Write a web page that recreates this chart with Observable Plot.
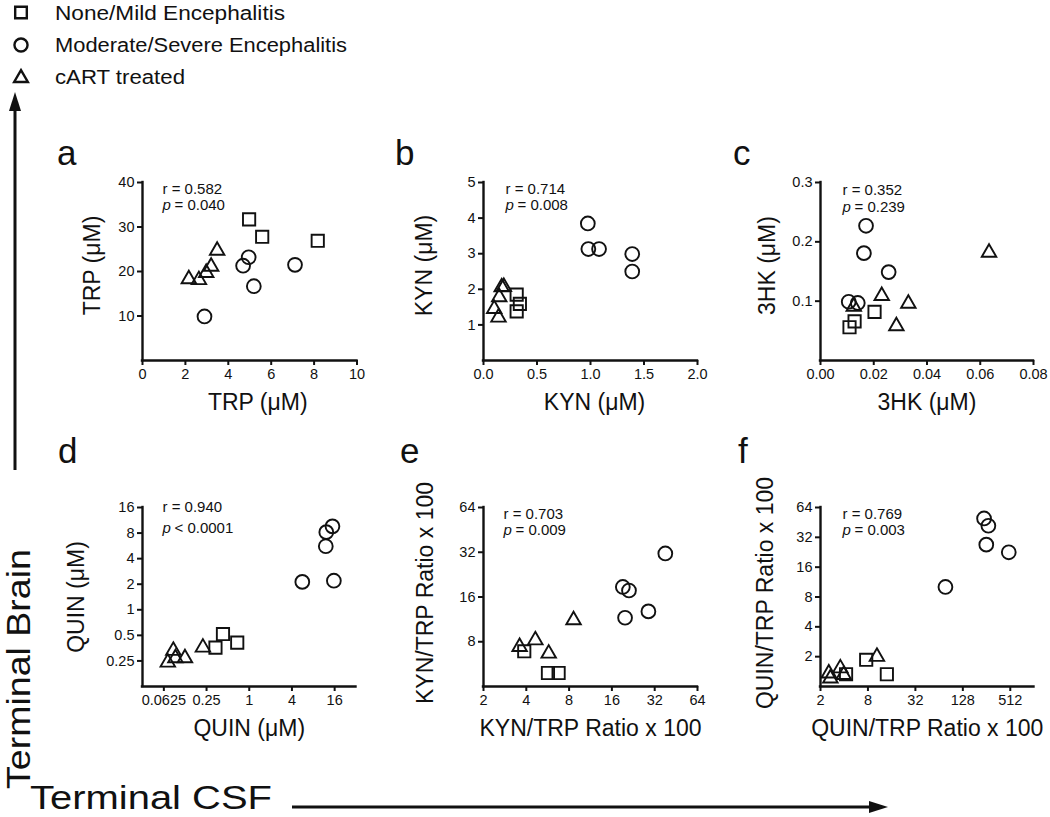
<!DOCTYPE html>
<html>
<head>
<meta charset="utf-8">
<script src="https://cdn.jsdelivr.net/npm/d3@7"></script>
<script src="https://cdn.jsdelivr.net/npm/@observablehq/plot@0.6"></script>
<style>
  body { margin: 0; background: #fff; }
  #root { position: relative; width: 1050px; height: 817px; overflow: hidden; background: #fff;
          font-family: "Liberation Sans", Arial, Helvetica, sans-serif; color: #111; }
  .panel { position: absolute; }
  .panel svg { overflow: visible; }
  #overlay { position: absolute; left: 0; top: 0; pointer-events: none; }
</style>
</head>
<body>
<div id="root"></div>
<script>
// ---------------- data ----------------
const groupCodes = ["S", "C", "T"];
const groupNames = ["None/Mild Encephalitis", "Moderate/Severe Encephalitis", "cART treated"];

// a: TRP (µM)  CSF (x) vs brain (y)
const aX = [4.97, 5.58, 8.17, 2.89, 4.69, 4.95, 5.19, 7.11, 2.16, 2.63, 2.97, 3.20, 3.48];
const aY = [31.7, 27.8, 26.9, 9.9, 21.3, 23.2, 16.7, 21.5, 18.3, 18.1, 19.7, 21.1, 24.7];
const aG = ["S", "S", "S", "C", "C", "C", "C", "C", "T", "T", "T", "T", "T"];

// b: KYN (µM)
const bX = [0.31, 0.34, 0.31, 0.975, 0.98, 1.08, 1.39, 1.39, 0.10, 0.14, 0.147, 0.17, 0.19];
const bY = [1.85, 1.59, 1.38, 3.85, 3.13, 3.13, 2.99, 2.50, 1.45, 1.21, 1.78, 2.06, 2.07];
const bG = ["S", "S", "S", "C", "C", "C", "C", "C", "T", "T", "T", "T", "T"];

// c: 3HK (µM)
const cX = [0.0109, 0.0128, 0.0203, 0.0106, 0.0140, 0.0171, 0.0163, 0.0256, 0.0125, 0.0230, 0.0330, 0.0285, 0.0633];
const cY = [0.056, 0.066, 0.082, 0.099, 0.097, 0.227, 0.181, 0.149, 0.091, 0.109, 0.096, 0.058, 0.182];
const cG = ["S", "S", "S", "C", "C", "C", "C", "C", "T", "T", "T", "T", "T"];

// d: QUIN (µM), log2 axes
const dX = [0.334, 0.426, 0.677, 5.6, 12.0, 12.2, 14.9, 15.6, 0.071, 0.085, 0.091, 0.124, 0.222];
const dY = [0.358, 0.518, 0.41, 2.13, 5.6, 8.2, 9.6, 2.2, 0.24, 0.33, 0.27, 0.27, 0.36];
const dG = ["S", "S", "S", "C", "C", "C", "C", "C", "T", "T", "T", "T", "T"];

// e: KYN/TRP ratio x 100, log2 axes
const eX = [3.87, 5.68, 6.75, 19.1, 21.1, 19.8, 28.9, 38.0, 3.59, 4.63, 5.75, 8.6];
const eY = [6.9, 4.93, 4.93, 18.7, 17.7, 11.6, 12.8, 31.4, 7.4, 8.2, 6.67, 11.2];
const eG = ["S", "S", "S", "C", "C", "C", "C", "C", "T", "T", "T", "T"];

// f: QUIN/TRP ratio x 100, log2 axes
const fX = [4.22, 7.6, 13.9, 77, 238, 270, 254, 490, 2.55, 2.67, 3.57, 3.94, 10.4];
const fY = [1.33, 1.86, 1.33, 10.1, 49.6, 41.9, 27, 22.6, 1.36, 1.21, 1.53, 1.31, 2.0];
const fG = ["S", "S", "S", "C", "C", "C", "C", "C", "T", "T", "T", "T", "T"];

// tick values
const aXTicks = [0, 2, 4, 6, 8, 10], aYTicks = [10, 20, 30, 40];
const bXTicks = [0, 0.5, 1, 1.5, 2], bYTicks = [1, 2, 3, 4, 5];
const cXTicks = [0, 0.02, 0.04, 0.06, 0.08], cYTicks = [0.1, 0.2, 0.3];
const dXTicks = [0.0625, 0.25, 1, 4, 16], dYTicks = [0.25, 0.5, 1, 2, 4, 8, 16];
const eXTicks = [2, 4, 8, 16, 32, 64], eYTicks = [8, 16, 32, 64];
const fXTicks = [2, 8, 32, 128, 512], fYTicks = [2, 4, 8, 16, 32, 64];

// correlation annotations
const stats = {
  a: ["0.582", "= 0.040"], b: ["0.714", "= 0.008"], c: ["0.352", "= 0.239"],
  d: ["0.940", "< 0.0001"], e: ["0.703", "= 0.009"], f: ["0.769", "= 0.003"]
};

// ---------------- layout ----------------
const FONT = "'Liberation Sans', Arial, Helvetica, sans-serif";
const INK = "#111";
const ML = 100, MR = 14, MT = 24, MB = 72;
const root = document.getElementById("root");
const symRange = [d3.symbolSquare, d3.symbolCircle, d3.symbolTriangle2];
const ANN = 15;

function makePanel(cfg) {
  const [x0, x1, y0, y1] = cfg.rect;
  const rows = cfg.xs.map((x, i) => ({x, y: cfg.ys[i], g: cfg.gs[i]}));
  const w = x1 - x0, h = y1 - y0;
  const st = stats[cfg.key];
  const top = ANN * 0.71;
  const plot = Plot.plot({
    width: w + ML + MR,
    height: h + MT + MB,
    marginLeft: ML, marginRight: MR, marginTop: MT, marginBottom: MB,
    style: {fontFamily: FONT, fontSize: "14px", color: INK, background: "transparent", overflow: "visible"},
    x: cfg.xScale,
    y: cfg.yScale,
    symbol: {domain: groupCodes, range: symRange},
    marks: [
      Plot.axisX({ticks: cfg.xTicks, tickFormat: cfg.xFmt, tickSize: 5, tickPadding: 3, strokeWidth: 2,
                  label: null, fontSize: 14.5, fill: INK}),
      Plot.axisY({ticks: cfg.yTicks, tickFormat: cfg.yFmt, tickSize: 5, tickPadding: 3, strokeWidth: 2,
                  label: null, fontSize: 14.5, fill: INK}),
      Plot.ruleX([cfg.xScale.domain[0]], {stroke: INK, strokeWidth: 2.4, strokeLinecap: "square"}),
      Plot.ruleY([cfg.yScale.domain[0]], {stroke: INK, strokeWidth: 2.4, strokeLinecap: "square"}),
      Plot.dot(rows, {x: "x", y: "y", symbol: "g", r: 6.9, stroke: INK, strokeWidth: 1.9, fill: "none"}),
      Plot.text([cfg.yTitle], {text: d => d, frameAnchor: "left", dx: -cfg.yOff, dy: cfg.yTitleDy || 0, rotate: -90,
                fontSize: 23, textAnchor: "middle", lineAnchor: "middle", fill: INK}),
      Plot.text([cfg.xTitle], {text: d => d, frameAnchor: "bottom", dy: 42, dx: cfg.xTitleDx || 0,
                fontSize: 23, textAnchor: "middle", lineAnchor: "middle", fill: INK}),
      Plot.text(["r = " + st[0]], {text: d => d, frameAnchor: "top-left", dx: cfg.annX, dy: cfg.ann1 - top,
                fontSize: ANN, textAnchor: "start", lineAnchor: "top", fill: INK}),
      Plot.text(["p"], {text: d => d, frameAnchor: "top-left", dx: cfg.annX, dy: cfg.ann2 - top,
                fontSize: ANN, fontStyle: "italic", textAnchor: "start", lineAnchor: "top", fill: INK}),
      Plot.text([st[1]], {text: d => d, frameAnchor: "top-left", dx: cfg.annX + 12, dy: cfg.ann2 - top,
                fontSize: ANN, textAnchor: "start", lineAnchor: "top", fill: INK})
    ]
  });
  const div = document.createElement("div");
  div.className = "panel";
  div.style.left = (x0 - ML) + "px";
  div.style.top = (y0 - MT) + "px";
  div.style.width = (w + ML + MR) + "px";
  div.appendChild(plot);
  root.appendChild(div);
}

const f1 = d3.format(".1f"), f2 = d3.format(".2f");
const plain = d => String(d);

makePanel({key: "a", rect: [142, 356.5, 182, 360], xs: aX, ys: aY, gs: aG,
  xScale: {type: "linear", domain: [0, 10]}, yScale: {type: "linear", domain: [0, 40]},
  xTicks: aXTicks, yTicks: aYTicks, xFmt: plain, yFmt: plain,
  xTitle: "TRP (μM)", yTitle: "TRP (μM)", yOff: 50, yTitleDy: -6, xTitleDx: 8, annX: 20, ann1: 11, ann2: 27.5});
makePanel({key: "b", rect: [483, 697, 182, 360], xs: bX, ys: bY, gs: bG,
  xScale: {type: "linear", domain: [0, 2]}, yScale: {type: "linear", domain: [0, 5]},
  xTicks: bXTicks, yTicks: bYTicks, xFmt: f1, yFmt: plain,
  xTitle: "KYN (μM)", yTitle: "KYN (μM)", yOff: 59, yTitleDy: -6, xTitleDx: 4, annX: 22, ann1: 11.5, ann2: 27.5});
makePanel({key: "c", rect: [820, 1033, 182, 360], xs: cX, ys: cY, gs: cG,
  xScale: {type: "linear", domain: [0, 0.08]}, yScale: {type: "linear", domain: [0, 0.3]},
  xTicks: cXTicks, yTicks: cYTicks, xFmt: f2, yFmt: f1,
  xTitle: "3HK (μM)", yTitle: "3HK (μM)", yOff: 53, yTitleDy: -6, annX: 22, ann1: 12, ann2: 29});
makePanel({key: "d", rect: [142, 355.5, 507, 686], xs: dX, ys: dY, gs: dG,
  xScale: {type: "log", base: 2, domain: [1 / 32, 32]}, yScale: {type: "log", base: 2, domain: [1 / 8, 16]},
  xTicks: dXTicks, yTicks: dYTicks, xFmt: plain, yFmt: plain,
  xTitle: "QUIN (μM)", yTitle: "QUIN (μM)", yOff: 66, annX: 20, ann1: 4, ann2: 25});
makePanel({key: "e", rect: [483, 697, 507, 686], xs: eX, ys: eY, gs: eG,
  xScale: {type: "log", base: 2, domain: [2, 64]}, yScale: {type: "log", base: 2, domain: [4, 64]},
  xTicks: eXTicks, yTicks: eYTicks, xFmt: plain, yFmt: plain,
  xTitle: "KYN/TRP Ratio x 100", yTitle: "KYN/TRP Ratio x 100", yOff: 58, yTitleDy: -4, annX: 20, ann1: 11.5, ann2: 27.5});
makePanel({key: "f", rect: [820, 1033.5, 507, 686], xs: fX, ys: fY, gs: fG,
  xScale: {type: "log", base: 2, domain: [2, 1024]}, yScale: {type: "log", base: 2, domain: [1, 64]},
  xTicks: fXTicks, yTicks: fYTicks, xFmt: plain, yFmt: plain,
  xTitle: "QUIN/TRP Ratio x 100", yTitle: "QUIN/TRP Ratio x 100", yOff: 55, yTitleDy: -4, annX: 22, ann1: 11.5, ann2: 27.5});

// ---------------- overlay: legend, panel letters, big axis labels ----------------
const ov = d3.select(root).append("svg").attr("id", "overlay")
  .attr("width", 1050).attr("height", 817)
  .style("font-family", FONT).attr("fill", INK);

const legendY = [12.5, 45, 77];
const legendLen = [230, 292, 130];
groupNames.forEach((name, i) => {
  ov.append("path")
    .attr("d", d3.symbol().type([d3.symbolSquare, d3.symbolCircle, d3.symbolTriangle2][i]).size(135)())
    .attr("transform", `translate(21,${legendY[i] + (i === 2 ? 1 : 0)})`)
    .attr("fill", "none").attr("stroke", INK).attr("stroke-width", 2.4);
  ov.append("text").attr("x", 55).attr("y", legendY[i] + 7)
    .attr("font-size", 19.5)
    .attr("textLength", legendLen[i]).attr("lengthAdjust", "spacingAndGlyphs")
    .text(name);
});

const letters = [["a", 57, 165], ["b", 395, 165], ["c", 733, 165], ["d", 58, 463], ["e", 400, 463], ["f", 738, 463]];
letters.forEach(([t, x, y]) => ov.append("text").attr("x", x).attr("y", y).attr("font-size", 35).text(t));

// Terminal Brain (vertical) with up arrow
ov.append("text").attr("transform", "translate(30,669) rotate(-90)")
  .attr("text-anchor", "middle").attr("font-size", 33)
  .attr("textLength", 240).attr("lengthAdjust", "spacingAndGlyphs")
  .text("Terminal Brain");
ov.append("line").attr("x1", 15).attr("x2", 15).attr("y1", 470).attr("y2", 108)
  .attr("stroke", INK).attr("stroke-width", 3);
ov.append("path").attr("d", "M15,92 L9,111 L21,111 Z").attr("fill", INK);

// Terminal CSF (horizontal) with right arrow
ov.append("text").attr("x", 30).attr("y", 809).attr("font-size", 33)
  .attr("textLength", 242).attr("lengthAdjust", "spacingAndGlyphs")
  .text("Terminal CSF");
ov.append("line").attr("x1", 292).attr("x2", 872).attr("y1", 807).attr("y2", 807)
  .attr("stroke", INK).attr("stroke-width", 3);
ov.append("path").attr("d", "M888,807 L869,801 L869,813 Z").attr("fill", INK);
</script>
</body>
</html>
